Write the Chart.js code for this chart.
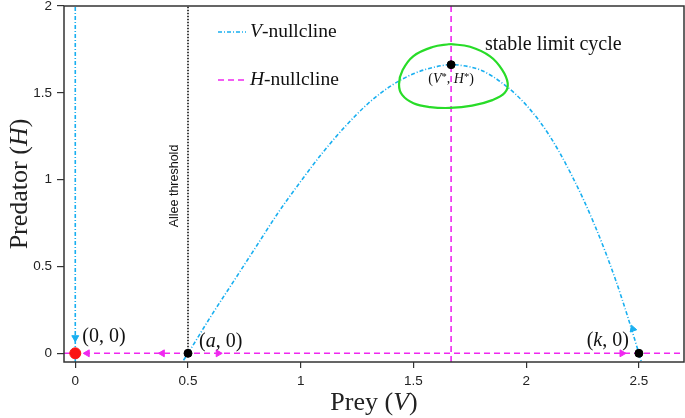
<!DOCTYPE html>
<html>
<head>
<meta charset="utf-8">
<script src="https://cdn.jsdelivr.net/npm/chart.js@4.4.1/dist/chart.umd.min.js"></script>
<style>
    html, body { margin: 0; padding: 0; background: #fff; }
    #wrap { width: 685px; height: 418px; }
</style>
</head>
<body>
<div id="wrap"><canvas id="chart" width="685" height="418"></canvas></div>
<script>
// V-nullcline (hump between a and k)
const humpV = [0.48, 0.5, 0.6, 0.7, 0.8, 0.9, 1.0, 1.1, 1.2, 1.3, 1.4, 1.5, 1.6, 1.667, 1.7, 1.8, 1.9, 2.0, 2.1, 2.2, 2.3, 2.4, 2.5, 2.52]
const humpH = [-0.04, 0, 0.21, 0.41, 0.61, 0.81, 0.99, 1.16, 1.31, 1.44, 1.54, 1.61, 1.65, 1.662, 1.66, 1.63, 1.55, 1.43, 1.26, 1.03, 0.75, 0.41, 0, -0.09]

// stable limit cycle around (V*, H*)
const cycleV = [1.662, 1.751, 1.840, 1.893, 1.918, 1.905, 1.850, 1.760, 1.662, 1.574, 1.500, 1.450, 1.436, 1.452, 1.500, 1.585, 1.662]
const cycleH = [1.781, 1.765, 1.710, 1.634, 1.556, 1.500, 1.458, 1.426, 1.413, 1.418, 1.440, 1.488, 1.550, 1.631, 1.712, 1.764, 1.781]

const vStar = 1.667
const hStar = 1.662
const alleeA = 0.5
const capK = 2.5

// equilibria (black) and the origin (red)
const eqV = [alleeA, vStar, capK]
const eqH = [0, hStar, 0]

// direction arrows: position and heading in degrees (0 = up)
const cyanArrowV = [0, 2.473]
const cyanArrowH = [0.09, 0.14]
const cyanArrowDir = [180, -19]
const pinkArrowV = [0.053, 0.386, 0.634, 2.425]
const pinkArrowH = [0, 0, 0, 0]
const pinkArrowDir = [270, 270, 90, 90]

const xTicks = [0, 0.5, 1, 1.5, 2, 2.5]
const yTicks = [0, 0.5, 1, 1.5, 2]
const xMin = -0.05, xMax = 2.7
const yMin = -0.05, yMax = 2

const CYAN = "rgb(25,175,240)"
const PINK = "rgb(240,40,240)"
const GREEN = "rgb(40,220,40)"
const CYAN_DASH = [4, 2, 1, 2]
const PINK_DASH = [6, 4]
const SERIF = "'Liberation Serif', 'DejaVu Serif', serif"
const SANS = "'Liberation Sans', Arial, sans-serif"

const toPoints = (xs, ys) => xs.map((x, i) => ({ x, y: ys[i] }))

const line = (label, data, color, dash, width) => ({
    label,
    data,
    showLine: true,
    borderColor: color,
    borderDash: dash,
    borderWidth: width,
    pointRadius: 0,
    tension: 0,
    fill: false,
})

// draws a run of text pieces, some italic, some raised
const drawRich = (ctx, parts, x, y, size, align) => {
    const fontOf = (p) => {
        const s = p.sup ? size * 0.75 : size
        return (p.it ? "italic " : "") + s + "px " + SERIF
    }
    let total = 0
    for (let p of parts) {
        ctx.font = fontOf(p)
        total += ctx.measureText(p.t).width
    }
    let cx = x
    if (align === "center") cx = x - total / 2
    if (align === "right") cx = x - total
    ctx.textAlign = "left"
    ctx.textBaseline = "middle"
    for (let p of parts) {
        ctx.font = fontOf(p)
        ctx.fillText(p.t, cx, p.sup ? y - size * 0.2 : y)
        cx += ctx.measureText(p.t).width
    }
}

const textPlugin = {
    id: "texts",
    afterDraw(chart) {
        const ctx = chart.ctx
        const xs = chart.scales.x
        const ys = chart.scales.y
        const area = chart.chartArea
        const px = (v) => xs.getPixelForValue(v)
        const py = (v) => ys.getPixelForValue(v)

        ctx.save()
        // frame around the plot
        ctx.strokeStyle = "#333"
        ctx.lineWidth = 1.5
        ctx.setLineDash([])
        ctx.strokeRect(area.left, area.top, area.right - area.left, area.bottom - area.top)

        ctx.fillStyle = "#111"
        // point labels
        drawRich(ctx, [{ t: "(0, 0)" }], px(0) + 7, py(0) - 17, 20, "left")
        drawRich(ctx, [{ t: "(" }, { t: "a", it: true }, { t: ", 0)" }], px(alleeA) + 11, py(0) - 12, 20, "left")
        drawRich(ctx, [{ t: "(" }, { t: "k", it: true }, { t: ", 0)" }], px(capK) - 10, py(0) - 13, 20, "right")
        drawRich(ctx, [
            { t: "(" }, { t: "V", it: true }, { t: "*", sup: true }, { t: ", " },
            { t: "H", it: true }, { t: "*", sup: true }, { t: ")" },
        ], px(vStar), py(hStar) + 15, 14, "center")
        drawRich(ctx, [{ t: "stable limit cycle" }], 485, 45, 20, "left")

        // legend
        const legend = [
            { y: 32, color: CYAN, dash: CYAN_DASH, name: "V" },
            { y: 80, color: PINK, dash: PINK_DASH, name: "H" },
        ]
        for (let item of legend) {
            ctx.strokeStyle = item.color
            ctx.lineWidth = 1.5
            ctx.setLineDash(item.dash)
            ctx.beginPath()
            ctx.moveTo(218, item.y)
            ctx.lineTo(246, item.y)
            ctx.stroke()
            ctx.setLineDash([])
            ctx.fillStyle = "#111"
            drawRich(ctx, [{ t: item.name, it: true }, { t: "-nullcline" }], 250, item.y, 19.5, "left")
        }

        // Allee threshold label
        ctx.save()
        ctx.translate(px(alleeA) - 13, 186)
        ctx.rotate(-Math.PI / 2)
        ctx.font = "12.5px " + SANS
        ctx.fillStyle = "#111"
        ctx.textAlign = "center"
        ctx.textBaseline = "middle"
        ctx.fillText("Allee threshold", 0, 0)
        ctx.restore()

        // axis titles
        ctx.fillStyle = "#222"
        drawRich(ctx, [{ t: "Prey (" }, { t: "V", it: true }, { t: ")" }], (area.left + area.right) / 2, 403, 26, "center")
        ctx.save()
        ctx.translate(20, (area.top + area.bottom) / 2)
        ctx.rotate(-Math.PI / 2)
        drawRich(ctx, [{ t: "Predator (" }, { t: "H", it: true }, { t: ")" }], 0, 0, 26, "center")
        ctx.restore()

        ctx.restore()
    },
}

const ctx1 = document.getElementById("chart").getContext("2d")

const arrowSet = (xs, ys, dirs, color) => ({
    label: "arrows",
    data: toPoints(xs, ys),
    showLine: false,
    pointStyle: "triangle",
    pointRadius: 4,
    rotation: dirs,
    backgroundColor: color,
    borderColor: color,
    borderWidth: 1,
})

const config1 = {
    type: "scatter",
    data: {
        datasets: [
            {
                label: "origin",
                data: [{ x: 0, y: 0 }],
                pointRadius: 5.5,
                backgroundColor: "rgb(250,20,20)",
                borderColor: "rgb(250,20,20)",
            },
            {
                label: "equilibria",
                data: toPoints(eqV, eqH),
                pointRadius: 4,
                backgroundColor: "#000",
                borderColor: "#000",
            },
            arrowSet(cyanArrowV, cyanArrowH, cyanArrowDir, CYAN),
            arrowSet(pinkArrowV, pinkArrowH, pinkArrowDir, PINK),
            Object.assign(line("limit cycle", toPoints(cycleV, cycleH), GREEN, [], 2.2), { tension: 0.4 }),
            Object.assign(line("V-nullcline", toPoints(humpV, humpH), CYAN, CYAN_DASH, 1.6), { cubicInterpolationMode: "monotone" }),
            line("V-nullcline axis", toPoints([0, 0], [yMin, yMax]), CYAN, CYAN_DASH, 1.6),
            line("H-nullcline vertical", toPoints([vStar, vStar], [yMin, yMax]), PINK, PINK_DASH, 1.6),
            line("H-nullcline axis", toPoints([xMin, xMax], [0, 0]), PINK, PINK_DASH, 1.6),
            line("Allee threshold", toPoints([alleeA, alleeA], [0, yMax]), "#000", [1.5, 1.5], 1.5),
        ],
    },
    options: {
        responsive: false,
        animation: false,
        layout: {
            autoPadding: false,
            padding: { top: 6, right: 1, left: 0, bottom: 0 },
        },
        plugins: {
            legend: { display: false },
            tooltip: { enabled: false },
        },
        scales: {
            x: {
                type: "linear",
                min: xMin,
                max: xMax,
                afterBuildTicks: (scale) => {
                    scale.ticks = xTicks.map((value) => ({ value }))
                },
                afterFit: (scale) => {
                    scale.height = 56
                    scale.paddingLeft = 0
                    scale.paddingRight = 0
                },
                border: { display: false },
                grid: {
                    display: true,
                    drawOnChartArea: false,
                    drawTicks: true,
                    tickLength: 6,
                    color: "#333",
                    lineWidth: 1.2,
                },
                ticks: {
                    color: "#222",
                    padding: 5,
                    maxRotation: 0,
                    font: { family: SANS, size: 13.5 },
                    callback: (value) => String(value),
                },
            },
            y: {
                type: "linear",
                min: yMin,
                max: yMax,
                afterBuildTicks: (scale) => {
                    scale.ticks = yTicks.map((value) => ({ value }))
                },
                afterFit: (scale) => {
                    scale.width = 64
                    scale.paddingTop = 0
                    scale.paddingBottom = 0
                },
                border: { display: false },
                grid: {
                    display: true,
                    drawOnChartArea: false,
                    drawTicks: true,
                    tickLength: 7,
                    color: "#333",
                    lineWidth: 1.2,
                },
                ticks: {
                    color: "#222",
                    padding: 5,
                    font: { family: SANS, size: 13.5 },
                    callback: (value) => String(value),
                },
            },
        },
    },
    plugins: [textPlugin],
}

const chart1 = new Chart(ctx1, config1)
</script>
</body>
</html>
